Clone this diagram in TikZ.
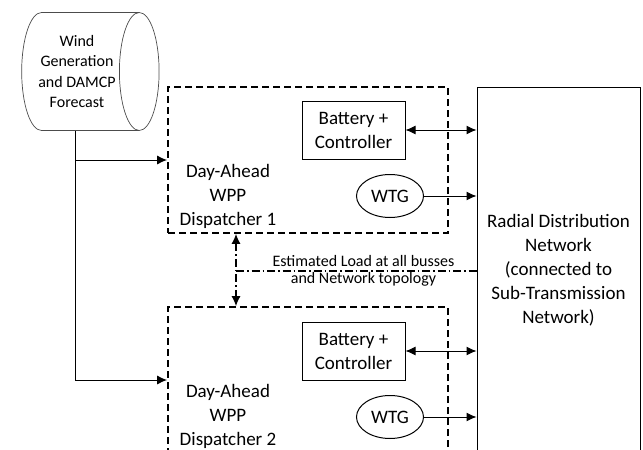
\documentclass[tikz,border=0pt]{standalone}
\usepackage{fontspec}
\setmainfont{Carlito}
\usetikzlibrary{shapes.geometric,arrows.meta}
\begin{document}
\begin{tikzpicture}[x=1pt,y=-1pt,
  >={Latex[length=10pt,width=9pt]},
  big/.style={font=\fontsize{19}{24}\selectfont},
  small/.style={font=\fontsize{16}{20.5}\selectfont},
  blk/.style={draw,line width=1pt,align=center,big},
  disp/.style={draw,line width=1.8pt,dash pattern=on 7pt off 4pt,minimum width=280pt,minimum height=146pt},
  info/.style={line width=1.1pt,dash pattern=on 8pt off 3pt on 1.5pt off 3pt},
  link/.style={line width=1pt}]
  \useasboundingbox (0,0) rectangle (643,450);
  \clip (0,0) rectangle (643,450);
  \node[cylinder,draw=black!70,line width=0.7pt,aspect=0.5,minimum width=118pt,minimum height=117pt,align=center,small] (fcst) at (77,71.5) {Wind\\Generation\\and DAMCP\\Forecast};
  \node[disp] (disp1) at (308,160) {};
  \node[disp] (disp2) at (308,380) {};
  \node[align=center,big] (name1) at (228,196) {Day-Ahead\\WPP\\Dispatcher 1};
  \node[align=center,big] (name2) at (228,416) {Day-Ahead\\WPP\\Dispatcher 2};
  \node[blk,minimum width=103pt,minimum height=58pt] (bat1) at (353.5,130) {Battery +\\Controller};
  \node[blk,minimum width=103pt,minimum height=58pt] (bat2) at (353.5,351) {Battery +\\Controller};
  \node[blk,ellipse,minimum width=67pt,minimum height=43pt,inner sep=0pt] (wtg1) at (390,196) {WTG};
  \node[blk,ellipse,minimum width=67pt,minimum height=43pt,inner sep=0pt] (wtg2) at (390,417) {WTG};
  \node[blk,minimum width=163pt,minimum height=366pt] (radial) at (558.5,270) {Radial Distribution\\Network\\(connected to\\Sub-Transmission\\Network)};
  \coordinate (tap) at (75,0);
  \coordinate (ctl) at (236,271);
  \draw[link,->] (tap |- fcst.south) |- (disp2.west);
  \draw[link,->] (tap |- disp1.west) -- (disp1.west);
  \draw[link,<->] (bat1.east) -- (radial.west |- bat1.east);
  \draw[link,->] (wtg1.east) -- (radial.west |- wtg1.east);
  \draw[link,<->] (bat2.east) -- (radial.west |- bat2.east);
  \draw[link,->] (wtg2.east) -- (radial.west |- wtg2.east);
  \draw[info,<->] (disp1.south -| ctl) -- (disp2.north -| ctl);
  \draw[info] (ctl) -- (radial.west |- ctl) node[pos=0.53,above=1pt,small] (est) {Estimated Load at all busses} node[pos=0.53,below=-2pt,small] (topo) {and Network topology};
\end{tikzpicture}
\end{document}
